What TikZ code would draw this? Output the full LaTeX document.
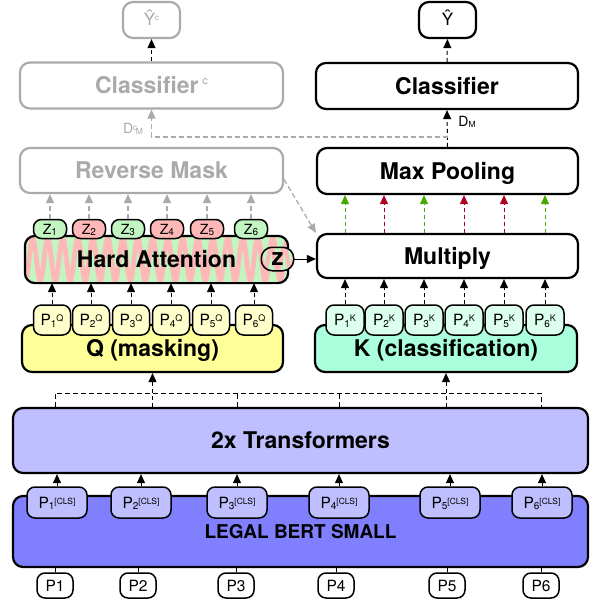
\documentclass[tikz,border=0pt]{standalone}
\usepackage{fontspec}
\setmainfont{TeX Gyre Heros}
\usetikzlibrary{arrows.meta,calc}
\definecolor{gr}{HTML}{AAAAAA}
\definecolor{tfill}{HTML}{BFBFFF}
\definecolor{lbfill}{HTML}{8080FF}
\definecolor{qfill}{HTML}{FFFF99}
\definecolor{pqfill}{HTML}{FFFFCC}
\definecolor{kfill}{HTML}{AAFFDD}
\definecolor{pkfill}{HTML}{DDFFEE}
\definecolor{zpink}{HTML}{FFB8B8}
\definecolor{zgreen}{HTML}{C2F5C2}
\definecolor{agreen}{HTML}{44AA00}
\definecolor{ared}{HTML}{AA0022}
\newcommand{\mylo}[2]{\raisebox{-1.5pt}{\fontsize{#1}{#1}\selectfont #2}}
\newcommand{\myhi}[3]{\raisebox{#2}{\fontsize{#1}{#1}\selectfont #3}}
\begin{document}
\begin{tikzpicture}[x=1pt,y=-1pt,
  bigbox/.style={draw, line width=2.2pt, rounded corners=10pt, inner sep=0pt,
    font=\fontsize{23}{23}\selectfont\bfseries, text height=16.5pt, text depth=0pt},
  graybox/.style={bigbox, draw=gr, text=gr},
  pillbox/.style={draw, line width=1.5pt, rounded corners=8pt, inner sep=0pt,
    font=\fontsize{15.5}{15.5}\selectfont, text height=11.2pt, text depth=0pt},
  arrowhd/.style={-{Triangle[length=9pt,width=8pt]}},
  solidarr/.style={arrowhd, line width=1pt},
  dasharr/.style={arrowhd, line width=1pt, dash pattern=on 4pt off 3pt},
  graydash/.style={draw=gr, line width=1.3pt, dash pattern=on 5pt off 3pt},
  busline/.style={line width=1pt, dash pattern=on 5pt off 3pt},
  boldlbl/.style={font=\fontsize{23}{23}\selectfont\bfseries, text height=16.5pt, text depth=0pt, inner sep=0pt}
]
\useasboundingbox (0,0) rectangle (598,610);

% top outputs
\node[graybox, minimum width=57pt, minimum height=36pt, font=\fontsize{17}{17}\selectfont, text height=12pt] (Yc) at (151.5,20) {\^{Y}\myhi{8}{5pt}{c}};
\node[bigbox, minimum width=57pt, minimum height=36pt, font=\fontsize{17}{17}\selectfont, text height=12pt] (Y) at (447.5,20) {\^{Y}};

% classifiers
\node[graybox, minimum width=263pt, minimum height=46pt] (ClsC) at (151.5,85.5) {Classifier\,\myhi{11}{9pt}{\mdseries c}};
\node[bigbox, minimum width=262pt, minimum height=46pt] (Cls) at (447,86) {Classifier};

% reverse mask / max pooling
\node[graybox, minimum width=263pt, minimum height=45pt] (RM) at (151.5,170.5) {Reverse Mask};
\node[bigbox, minimum width=261pt, minimum height=46pt] (MP) at (447.5,171) {Max Pooling};

% hard attention (patterned) / multiply
\node[bigbox, draw=none, minimum width=261pt, minimum height=45pt] (HA) at (156.5,259.5) {};
\begin{scope}
  \clip[rounded corners=10pt] (HA.north west) rectangle (HA.south east);
  \fill[zgreen] (HA.north west) rectangle (HA.south east);
  \begin{scope}[shift={(HA.center)}]
    \draw[zpink, line width=4.8pt] plot[domain=-140:140, samples=500] (\x,{21*sin(24*\x)});
  \end{scope}
\end{scope}
\draw[line width=2.2pt, rounded corners=10pt] (HA.north west) rectangle (HA.south east);
\node[boldlbl] (HAt) at (HA.center) {Hard Attention};

\node[bigbox, minimum width=261pt, minimum height=44pt] (Mult) at (447.5,256) {Multiply};

\foreach \i/\xx/\c in {1/50/zgreen,2/89/zpink,3/128/zgreen,4/167/zpink,5/207/zpink,6/251/zgreen}
  \node[pillbox, fill=\c, minimum width=33pt, minimum height=19pt, font=\fontsize{14}{14}\selectfont, text height=10pt] (Z\i) at (\xx,229) {Z\mylo{10}{\i}};

% z node (patterned)
\node[pillbox, draw=none, minimum width=31pt, minimum height=22pt] (zz) at (277.5,259) {};
\begin{scope}
  \clip[rounded corners=11pt] (zz.north west) rectangle (zz.south east);
  \fill[zgreen] (zz.north west) rectangle (zz.south east);
  \begin{scope}[shift={(zz.center)}]
    \draw[zpink, line width=4pt] plot[domain=-20:20, samples=200] (\x,{11*sin(27.7*(\x+3))});
  \end{scope}
\end{scope}
\draw[line width=1.5pt, rounded corners=11pt] (zz.north west) rectangle (zz.south east);
\node[font=\fontsize{24}{24}\selectfont\bfseries, text height=12.5pt, text depth=0pt, inner sep=0pt] (zzt) at (zz.center) {z};

% Q and K
\node[bigbox, fill=qfill, minimum width=261pt, minimum height=47pt] (Q) at (152.5,348.5) {Q (masking)};
\node[bigbox, fill=kfill, minimum width=262pt, minimum height=47pt] (K) at (446,348.5) {K (classification)};

\foreach \i/\xx in {1/52,2/91,3/131,4/171,5/211,6/254}
  \node[pillbox, fill=pqfill, minimum width=37pt, minimum height=30pt] (PQ\i) at (\xx,320) {P\mylo{10}{\i}\myhi{9}{4pt}{Q}};
\foreach \i/\xx in {1/345,2/384,3/424,4/464,5/504,6/545}
  \node[pillbox, fill=pkfill, minimum width=38pt, minimum height=30pt] (PK\i) at (\xx,320) {P\mylo{10}{\i}\myhi{9}{4pt}{K}};

% transformers and bert
\node[bigbox, fill=tfill, minimum width=575pt, minimum height=65pt] (T) at (300.5,440.5) {2x Transformers};
\node[bigbox, fill=lbfill, minimum width=575pt, minimum height=71pt, font=\fontsize{19}{19}\selectfont\bfseries, text height=13.7pt] (LB) at (300.5,531.5) {LEGAL BERT SMALL};

\foreach \i/\xx in {1/57,2/141,3/237,4/339,5/450,6/542}
  \node[pillbox, fill=tfill, minimum width=60pt, minimum height=31pt] (PC\i) at (\xx,502.5) {P\mylo{10}{\i}\myhi{8.5}{4pt}{[CLS]}};
\foreach \i/\xx in {1/55,2/138,3/236,4/336,5/447,6/541}
  \node[pillbox, fill=white, minimum width=36pt, minimum height=25pt] (P\i) at (\xx,585.5) {P\i};

% connectors
\foreach \i in {1,...,6} {
  \draw[solidarr] (PC\i.north) -- (PC\i.north |- T.south);
  \draw[line width=1pt] (P\i.north) -- (P\i.north |- LB.south);
  \draw[dasharr] (PQ\i.north) -- (PQ\i.north |- HA.south);
  \draw[dasharr] (PK\i.north) -- (PK\i.north |- Mult.south);
  \draw[graydash, arrowhd] (Z\i.north) -- (Z\i.north |- RM.south);
}
\foreach \i/\c in {1/agreen,2/ared,3/agreen,4/ared,5/ared,6/agreen}
  \draw[dasharr, \c] (PK\i.north |- Mult.north) -- (PK\i.north |- MP.south);

\coordinate (bus) at (0,393);
\draw[busline] (P1.north |- T.north) -- (P1.north |- bus) -- (P6.north |- bus) -- (P6.north |- T.north);
\draw[busline] (PC3.north |- T.north) -- (PC3.north |- bus);
\draw[busline] (PC4.north |- T.north) -- (PC4.north |- bus);
\draw[dasharr] (Q.south |- T.north) -- (Q.south);
\draw[dasharr] (K.south |- T.north) -- (K.south);

\draw[solidarr] (zz.east) -- (zz.east -| Mult.west);
\draw[graydash, arrowhd] ([yshift=-9pt]RM.east) -- (Mult.north west);

\draw[dasharr] (MP.north) -- (Cls.south);
\coordinate (br) at ([yshift=10pt]MP.north);
\draw[graydash, arrowhd] (br) -| (ClsC.south);
\draw[dasharr] (ClsC.north) -- (Yc.south);
\draw[dasharr] (Cls.north) -- (Y.south);

\node[font=\fontsize{14}{14}\selectfont] (DM) at (467,122) {D\mylo{8.5}{M}};
\node[font=\fontsize{14}{14}\selectfont, text=gr] (DcM) at (133,129) {D\myhi{8.5}{3pt}{c}\hspace{-1.5pt}\mylo{8.5}{M}};
\end{tikzpicture}
\end{document}
